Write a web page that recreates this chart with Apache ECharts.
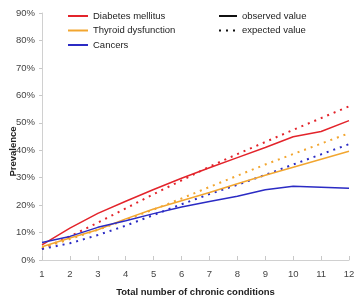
<!DOCTYPE html>
<html>
<head>
<meta charset="utf-8">
<script src="https://cdn.jsdelivr.net/npm/echarts@6/dist/echarts.min.js"></script>
<style>
  html, body { margin: 0; padding: 0; background: #fff; }
  #chart { width: 355px; height: 296px; }
</style>
</head>
<body>
<div id="chart"></div>
<script>
// number of chronic conditions
const conditions = ['1', '2', '3', '4', '5', '6', '7', '8', '9', '10', '11', '12'];

// observed prevalence (%)
const diabetesObs = [5.5, 11.6, 17.0, 21.4, 25.7, 29.8, 33.6, 37.3, 41.0, 44.9, 46.8, 50.8];
const thyroidObs  = [4.8, 8.0, 11.0, 15.0, 18.6, 21.6, 24.6, 27.8, 30.9, 33.8, 36.7, 39.6];
const cancersObs  = [6.4, 8.6, 11.9, 14.3, 16.9, 19.3, 21.3, 23.2, 25.6, 26.9, 26.5, 26.1];

// expected prevalence (%)
const diabetesExp = [4.0, 8.6, 13.6, 18.8, 24.0, 29.0, 34.0, 38.6, 43.0, 47.4, 51.7, 56.0];
const thyroidExp  = [4.3, 7.6, 11.0, 14.6, 18.4, 22.4, 26.6, 30.7, 34.8, 38.6, 42.4, 46.2];
const cancersExp  = [4.0, 6.1, 9.1, 12.5, 16.4, 20.3, 24.0, 27.4, 31.0, 34.8, 38.5, 42.2];

const yTicks = { min: 0, max: 90, interval: 10 };

const RED = '#e3242b';
const ORANGE = '#f2a630';
const BLUE = '#2b2bc4';
const FONT = 'Liberation Sans, Arial, sans-serif';

const chart = echarts.init(document.getElementById('chart'));

function line(name, data, color, dotted) {
  return {
    name: name,
    type: 'line',
    data: data,
    symbol: 'none',
    color: color,
    lineStyle: {
      color: color,
      width: dotted ? 2 : 1.5,
      type: dotted ? [2, 5] : 'solid'
    },
    z: dotted ? 2 : 3
  };
}

const legendText = { color: '#222', fontSize: 9.5, fontFamily: FONT };

const option = {
  animation: false,
  textStyle: { fontFamily: FONT },
  grid: { left: 42, right: 6, top: 13, bottom: 36, outerBoundsMode: 'none', containLabel: false },
  legend: [
    {
      data: ['Diabetes mellitus', 'Thyroid dysfunction', 'Cancers'],
      orient: 'vertical',
      left: 62,
      top: 6,
      itemWidth: 20,
      itemHeight: 10,
      itemGap: 4.5,
      itemStyle: { opacity: 0 },
      textStyle: legendText,
      selectedMode: false
    },
    {
      data: ['observed value', 'expected value'],
      orient: 'vertical',
      left: 213,
      top: 6,
      itemWidth: 18,
      itemHeight: 10,
      itemGap: 4.5,
      itemStyle: { opacity: 0 },
      textStyle: legendText,
      selectedMode: false
    }
  ],
  xAxis: {
    type: 'category',
    data: conditions,
    boundaryGap: false,
    name: 'Total number of chronic conditions',
    nameLocation: 'middle',
    nameGap: 27,
    nameMoveOverlap: false,
    nameTextStyle: { fontWeight: 'bold', fontSize: 9.5, color: '#222' },
    axisLine: { lineStyle: { color: '#d0d0d0', width: 1 } },
    axisTick: { inside: true, length: 4, lineStyle: { color: '#c8c8c8' } },
    axisLabel: { color: '#444', fontSize: 9.5, margin: 9 },
    splitLine: { show: false }
  },
  yAxis: {
    type: 'value',
    min: yTicks.min,
    max: yTicks.max,
    interval: yTicks.interval,
    name: 'Prevalence',
    nameLocation: 'middle',
    nameGap: 24,
    nameMoveOverlap: false,
    nameTextStyle: { fontWeight: 'bold', fontSize: 9.5, color: '#222', padding: [0, 30, 0, 0] },
    axisLine: { show: true, lineStyle: { color: '#d0d0d0', width: 1 } },
    axisTick: { show: true, length: 3, lineStyle: { color: '#c8c8c8' } },
    axisLabel: { color: '#444', fontSize: 9.5, margin: 7, formatter: '{value}%' },
    splitLine: { show: false }
  },
  series: [
    line('Diabetes mellitus', diabetesObs, RED, false),
    line('Thyroid dysfunction', thyroidObs, ORANGE, false),
    line('Cancers', cancersObs, BLUE, false),
    line('Diabetes expected', diabetesExp, RED, true),
    line('Thyroid expected', thyroidExp, ORANGE, true),
    line('Cancers expected', cancersExp, BLUE, true),
    line('observed value', [], '#111', false),
    line('expected value', [], '#111', true)
  ]
};

chart.setOption(option);
</script>
</body>
</html>
